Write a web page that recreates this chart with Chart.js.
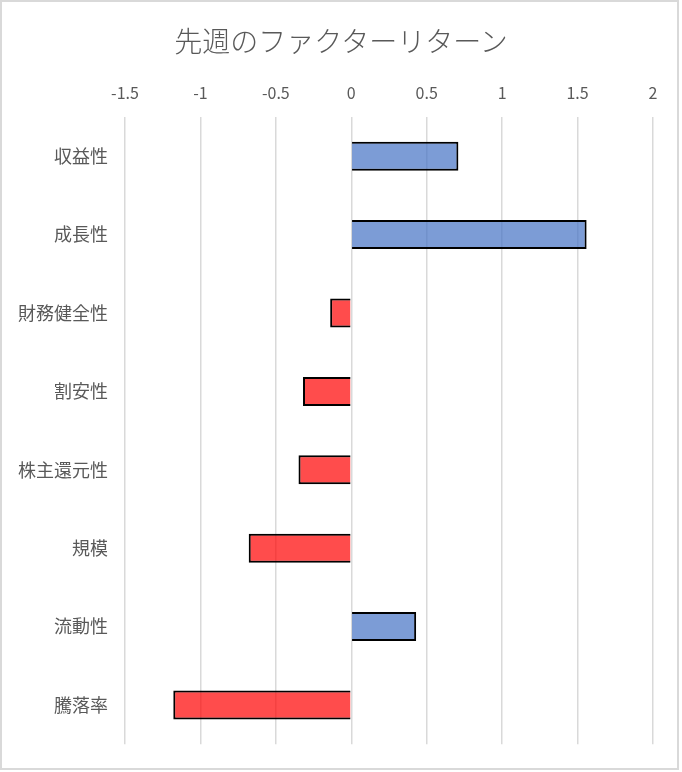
<!DOCTYPE html>
<html>
<head>
<meta charset="utf-8">
<script src="https://cdn.jsdelivr.net/npm/chart.js@4/dist/chart.umd.min.js"></script>
<style>
html,body{margin:0;padding:0;background:#fff;}
#wrap{position:relative;width:682px;height:772px;}
#title{position:absolute;left:0;top:0;width:682px;text-align:center;
  font-family:'Noto Sans CJK JP','Noto Sans',sans-serif;font-weight:300;
  font-size:28px;line-height:34px;top:23px;color:#595959;}
canvas{position:absolute;left:0;top:0;}
</style>
</head>
<body>
<div id="wrap"><canvas id="c" width="682" height="772"></canvas><div id="title"></div></div>
<script>
const titleText = '先週のファクターリターン';
const categories = ['収益性', '成長性', '財務健全性', '割安性', '株主還元性', '規模', '流動性', '騰落率'];
const returns = [0.71, 1.56, -0.14, -0.32, -0.35, -0.68, 0.43, -1.18];
const xTicks = [-1.5, -1, -0.5, 0, 0.5, 1, 1.5, 2];

const posColor = 'rgba(68,114,196,0.7)';
const negColor = 'rgba(255,0,0,0.7)';
const textGray = '#595959';
const FONT = "'Noto Sans CJK JP', 'Noto Sans', sans-serif";

document.getElementById('title').textContent = titleText;

const frame = {
  id: 'frame',
  afterDraw(chart) {
    const ctx = chart.ctx;
    ctx.save();
    ctx.strokeStyle = '#d9d9d9';
    ctx.lineWidth = 2;
    ctx.strokeRect(1, 1, 677, 768);
    ctx.restore();
  }
};

new Chart(document.getElementById('c'), {
  type: 'bar',
  data: {
    labels: categories,
    datasets: [{
      data: returns,
      backgroundColor: returns.map(v => v >= 0 ? posColor : negColor),
      borderColor: '#000',
      borderWidth: 2,
      borderSkipped: 'start',
      categoryPercentage: 1,
      barPercentage: 0.37
    }]
  },
  options: {
    indexAxis: 'y',
    responsive: false,
    animation: false,
    devicePixelRatio: 1,
    layout: { padding: { left: 0, right: 29, top: 66.6, bottom: 26 } },
    plugins: {
      legend: { display: false },
      tooltip: { enabled: false },
      title: { display: false }
    },
    scales: {
      x: {
        position: 'top',
        min: xTicks[0],
        max: xTicks[xTicks.length - 1],
        afterBuildTicks: (scale) => { scale.ticks = xTicks.map(v => ({ value: v })); },
        afterFit: (scale) => { scale.height = 50.4; },
        ticks: {
          color: textGray,
          font: { family: FONT, size: 16, lineHeight: 1.2 },
          padding: 14,
          callback: (v) => String(v)
        },
        grid: { color: '#d9d9d9', lineWidth: 1.5, drawTicks: false },
        border: { display: false }
      },
      y: {
        afterFit: (scale) => { scale.width = 125; },
        ticks: {
          color: textGray,
          font: { family: FONT, size: 18 },
          padding: 17
        },
        grid: { display: false, drawTicks: false },
        border: { display: false }
      }
    }
  },
  plugins: [frame]
});
</script>
</body>
</html>
